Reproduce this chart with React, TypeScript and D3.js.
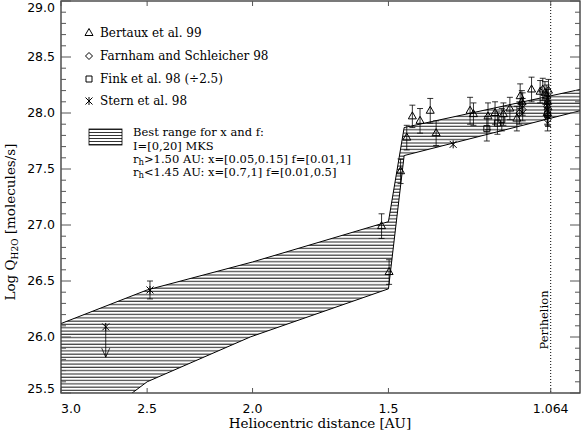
import * as d3 from "d3";

// plot frame (pixels)
const W = 582;
const H = 435;
const left = 61;
const right = 580;
const top = 1;
const bottom = 393;

// axes
const xTickValues = [3.0, 2.5, 2.0, 1.5, 1.064];
const xTickLabels = ["3.0", "2.5", "2.0", "1.5", "1.064"];
const yTickValues = [25.5, 26.0, 26.5, 27.0, 27.5, 28.0, 28.5, 29.0];
const yTickLabels = ["25.5", "26.0", "26.5", "27.0", "27.5", "28.0", "28.5", "29.0"];
const perihelion = 1.064;

// best range band (r in AU, log Q)
const bandUpperR = [3.0, 2.5, 2.0, 1.5, 1.451, 1.0];
const bandUpperQ = [26.12, 26.42, 26.67, 27.03, 27.87, 28.21];
const bandLowerR = [2.63, 2.5, 2.01, 1.5, 1.451, 1.0];
const bandLowerQ = [25.44, 25.6, 26.0, 26.43, 27.62, 28.02];

// Bertaux et al. 99
const bertauxR = [1.522, 1.498, 1.462, 1.443, 1.426, 1.403, 1.373, 1.356, 1.262, 1.253, 1.215, 1.197, 1.176, 1.16, 1.143, 1.135, 1.131, 1.108, 1.088, 1.082, 1.077, 1.073, 1.071, 1.07, 1.072, 1.069];
const bertauxQ = [26.99, 26.58, 27.48, 27.78, 27.97, 27.93, 28.02, 27.82, 28.02, 27.99, 27.97, 28.0, 27.99, 28.04, 27.95, 28.15, 28.1, 28.21, 28.19, 28.21, 28.18, 28.15, 28.1, 28.05, 28.0, 28.2];
const bertauxErr = [0.11, 0.11, 0.11, 0.11, 0.1, 0.11, 0.11, 0.11, 0.12, 0.1, 0.12, 0.1, 0.1, 0.1, 0.11, 0.11, 0.1, 0.11, 0.1, 0.1, 0.1, 0.1, 0.11, 0.1, 0.1, 0.1];

// Farnham and Schleicher 98
const farnhamR = [1.129, 1.137, 1.071, 1.07, 1.072, 1.129];
const farnhamQ = [28.03, 28.0, 27.94, 27.98, 28.06, 28.08];
const farnhamErr = [0.1, 0.1, 0.1, 0.1, 0.1, 0.1];

// Fink et al. 98 (/2.5)
const finkR = [1.218, 1.191, 1.18, 1.071];
const finkQ = [27.86, 27.91, 27.94, 27.99];
const finkErr = [0.11, 0.1, 0.1, 0.1];

// Stern et al. 98
const sternR = [2.485, 1.308];
const sternQ = [26.42, 27.72];
const sternErr = [0.08, 0];
const sternLimitR = [2.729];
const sternLimitQ = [26.09];
const sternLimitTo = [25.82];

const x = d3.scaleLog().domain([3.0, 1.0]).range([left, right]);
const y = d3.scaleLinear().domain([25.5, 29.0]).range([bottom, top]);

const serif = "'DejaVu Serif', serif";
const sans = "'DejaVu Sans', sans-serif";

const triangle = "M0,-4.5L4,2.5L-4,2.5Z";
const diamond = "M0,-3.5L3.5,0L0,3.5L-3.5,0Z";
const square = "M-3,-3L3,-3L3,3L-3,3Z";
const asterisk = "M0,-4V4M-3.5,-3.5L3.5,3.5M-3.5,3.5L3.5,-3.5";

function ErrorBars({ rs, qs, errs }: { rs: number[]; qs: number[]; errs: number[] }) {
  return (
    <g stroke="#000" strokeWidth={0.8} fill="none">
      {rs.map((r, i) => {
        if (!errs[i]) return null;
        const cx = x(r);
        const y1 = y(qs[i] + errs[i]);
        const y2 = y(qs[i] - errs[i]);
        return (
          <path key={i} d={`M${cx},${y1}V${y2}M${cx - 3},${y1}H${cx + 3}M${cx - 3},${y2}H${cx + 3}`} />
        );
      })}
    </g>
  );
}

function Markers({ rs, qs, shape }: { rs: number[]; qs: number[]; shape: string }) {
  return (
    <g stroke="#000" strokeWidth={1} fill="none">
      {rs.map((r, i) => (
        <path key={i} d={shape} transform={`translate(${x(r)},${y(qs[i])})`} />
      ))}
    </g>
  );
}

export default function App() {
  const upper = bandUpperR.map((r, i) => [r, bandUpperQ[i]] as [number, number]);
  const lower = bandLowerR.map((r, i) => [r, bandLowerQ[i]] as [number, number]);
  const floor = y.domain()[0] - 0.2;
  const poly: [number, number][] = [
    ...upper,
    ...lower.slice().reverse(),
    [3.0, floor],
  ];
  const line = d3
    .line<[number, number]>()
    .x((d) => x(d[0]))
    .y((d) => y(d[1]));
  const bandPath = line(poly) + "Z";
  const upperPath = line(upper) || "";
  const lowerPath = line(lower) || "";

  const yMinor = d3.range(25.5, 29.0001, 0.1).map((v) => +v.toFixed(1));

  return (
    <svg width={W} height={H} style={{ position: "absolute", left: 0, top: 0, background: "#fff" }}>
      <defs>
        <pattern id="hatch" patternUnits="userSpaceOnUse" width={8} height={3.3}>
          <line x1={0} x2={8} y1={1} y2={1} stroke="#000" strokeWidth={0.9} />
        </pattern>
        <pattern id="hatchLegend" patternUnits="userSpaceOnUse" width={8} height={3}>
          <line x1={0} x2={8} y1={0.5} y2={0.5} stroke="#000" strokeWidth={0.8} />
        </pattern>
        <clipPath id="plot">
          <rect x={left} y={top} width={right - left} height={bottom - top} />
        </clipPath>
      </defs>
      <rect width={W} height={H} fill="#fff" />

      {/* hatched best range */}
      <g clipPath="url(#plot)">
        <path d={bandPath} fill="url(#hatch)" stroke="none" />
        <path d={upperPath} fill="none" stroke="#000" strokeWidth={1} />
        <path d={lowerPath} fill="none" stroke="#000" strokeWidth={1} />
      </g>

      {/* perihelion */}
      <line x1={x(perihelion)} x2={x(perihelion)} y1={top} y2={bottom} stroke="#000" strokeWidth={1} strokeDasharray="1,2" />
      <text
        transform={`translate(${x(perihelion) - 3},320) rotate(-90)`}
        textAnchor="middle"
        fontFamily={serif}
        fontSize={11.5}
      >
        Perihelion
      </text>

      {/* data */}
      <ErrorBars rs={bertauxR} qs={bertauxQ} errs={bertauxErr} />
      <ErrorBars rs={farnhamR} qs={farnhamQ} errs={farnhamErr} />
      <ErrorBars rs={finkR} qs={finkQ} errs={finkErr} />
      <ErrorBars rs={sternR} qs={sternQ} errs={sternErr} />
      <Markers rs={bertauxR} qs={bertauxQ} shape={triangle} />
      <Markers rs={farnhamR} qs={farnhamQ} shape={diamond} />
      <Markers rs={finkR} qs={finkQ} shape={square} />
      <Markers rs={sternR} qs={sternQ} shape={asterisk} />
      <Markers rs={sternLimitR} qs={sternLimitQ} shape={asterisk} />
      <g stroke="#000" strokeWidth={0.8} fill="none">
        {sternLimitR.map((r, i) => {
          const cx = x(r);
          const y1 = y(sternLimitQ[i]);
          const y2 = y(sternLimitTo[i]);
          return <path key={i} d={`M${cx},${y1}V${y2}M${cx - 4},${y2 - 9}L${cx},${y2}L${cx + 4},${y2 - 9}`} />;
        })}
      </g>

      {/* frame */}
      <rect x={left} y={top} width={right - left} height={bottom - top} fill="none" stroke="#333" strokeWidth={1.3} />

      {/* y ticks */}
      <g stroke="#555" strokeWidth={1}>
        {yMinor.map((v) => {
          const major = yTickValues.includes(v);
          const len = major ? 10 : 5;
          return (
            <g key={v}>
              <line x1={left} x2={left + len} y1={y(v)} y2={y(v)} />
              <line x1={right} x2={right - len} y1={y(v)} y2={y(v)} />
            </g>
          );
        })}
      </g>
      <g fontFamily={sans} fontSize={12.5} textAnchor="end">
        {yTickValues.map((v, i) => (
          <text key={v} x={left - 6} y={Math.min(Math.max(y(v), 8), 389)} dy="0.35em">
            {yTickLabels[i]}
          </text>
        ))}
      </g>

      {/* x ticks */}
      <g stroke="#555" strokeWidth={1}>
        {xTickValues.map((v) => (
          <g key={v}>
            <line x1={x(v)} x2={x(v)} y1={bottom} y2={bottom - 5} />
            <line x1={x(v)} x2={x(v)} y1={top} y2={top + 5} />
          </g>
        ))}
      </g>
      <g fontFamily={sans} fontSize={12.5}>
        {xTickValues.map((v, i) => (
          <text key={v} x={x(v)} y={413} textAnchor={i === 0 ? "start" : "middle"}>
            {xTickLabels[i]}
          </text>
        ))}
      </g>

      {/* axis titles */}
      <text x={320} y={428} textAnchor="middle" fontFamily={serif} fontSize={13.5}>
        Heliocentric distance [AU]
      </text>
      <text transform="translate(15,222) rotate(-90)" textAnchor="middle" fontFamily={serif} fontSize={13.5}>
        Log Q
        <tspan fontSize={9} dy={3}>H2O</tspan>
        <tspan dy={-3}> [molecules/s]</tspan>
      </text>

      {/* legend */}
      <g fontFamily={serif} fontSize={12}>
        <path d={triangle} transform="translate(89,33)" fill="none" stroke="#000" />
        <text x={100} y={37}>Bertaux et al. 99</text>
        <path d={diamond} transform="translate(89,56)" fill="none" stroke="#000" />
        <text x={100} y={60}>Farnham and Schleicher 98</text>
        <path d={square} transform="translate(89,79)" fill="none" stroke="#000" />
        <text x={100} y={83}>Fink et al. 98 (÷2.5)</text>
        <path d={asterisk} transform="translate(89,101)" fill="none" stroke="#000" />
        <text x={100} y={105}>Stern et al. 98</text>
      </g>
      <g fontFamily={serif} fontSize={11.5}>
        <rect x={89} y={129} width={33} height={16} fill="url(#hatchLegend)" stroke="#000" strokeWidth={0.8} />
        <text x={133} y={136}>Best range for x and f:</text>
        <text x={133} y={150}>I=[0,20] MKS</text>
        <text x={133} y={163}>
          r<tspan fontSize={8.5} dy={2}>h</tspan>
          <tspan dy={-2}>{">1.50 AU: x=[0.05,0.15] f=[0.01,1]"}</tspan>
        </text>
        <text x={133} y={176}>
          r<tspan fontSize={8.5} dy={2}>h</tspan>
          <tspan dy={-2}>{"<1.45 AU: x=[0.7,1] f=[0.01,0.5]"}</tspan>
        </text>
      </g>
    </svg>
  );
}
